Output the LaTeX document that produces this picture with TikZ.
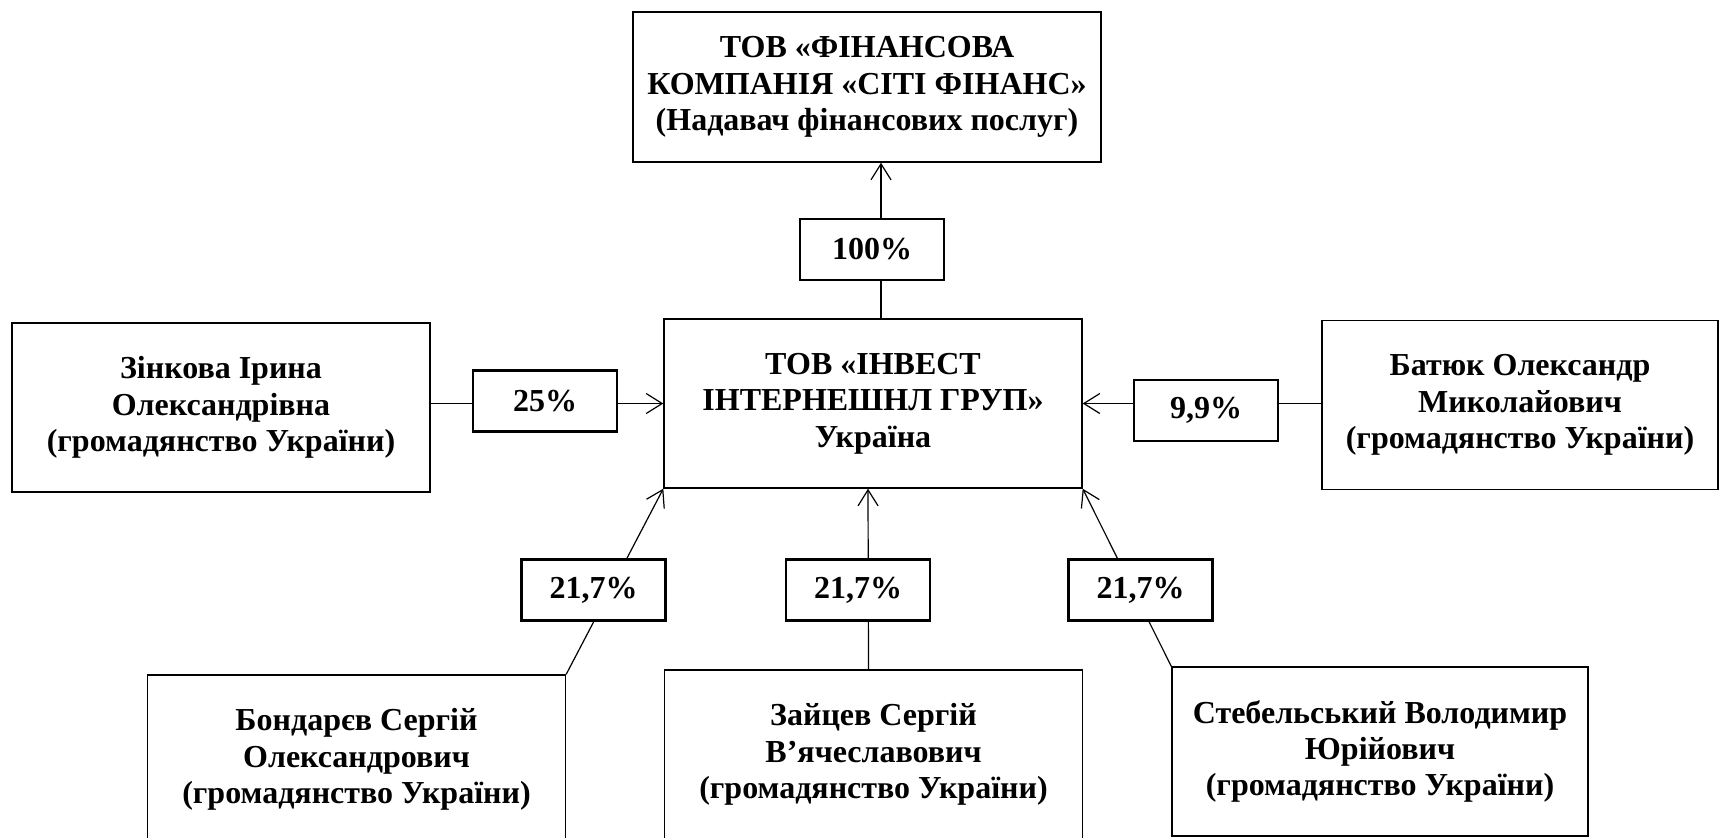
\documentclass[tikz,border=0pt]{standalone}
\usepackage{fontspec}
\setmainfont{Liberation Serif}
\usetikzlibrary{arrows.meta}

\begin{document}
\begin{tikzpicture}[x=0.5pt,y=-0.5pt,
        >={Straight Barb[length=8pt,width=10pt]},
        font=\fontsize{16}{18.2}\selectfont\bfseries,
        party/.style={draw,line width=0.7pt,inner sep=0pt,align=center,minimum width=209pt,minimum height=84.5pt},
        share/.style={draw,line width=1.3pt,fill=white,inner sep=0pt,minimum width=72pt,minimum height=30.5pt}]

                \useasboundingbox (0,0) rectangle (1719,837);
                \clip (0,0) rectangle (1719,837);

                \node[party,minimum width=234pt,minimum height=75pt] (fin) at (867,87) {ТОВ «ФІНАНСОВА\\КОМПАНІЯ «СІТІ ФІНАНС»\\(Надавач фінансових послуг)}; %верх
                \node[party] (inv) at (873,403.5) {ТОВ «ІНВЕСТ\\ІНТЕРНЕШНЛ ГРУП»\\Україна}; %центр
                \node[party] (zin) at (221,407.5) {Зінкова Ірина\\Олександрівна\\(громадянство України)};
                \node[party,minimum width=198pt] (bat) at (1520,405) {Батюк Олександр\\Миколайович\\(громадянство України)};
                \node[party] (bon) at (356.5,759.5) {Бондарєв Сергій\\Олександрович\\(громадянство України)};
                \node[party] (zai) at (873.5,754.5) {Зайцев Сергій\\В’ячеславович\\(громадянство України)};
                \node[party,minimum width=208pt] (ste) at (1380,751.5) {Стебельський Володимир\\Юрійович\\(громадянство України)};

                \draw[->,line width=0.6pt] ([xshift=4pt]inv.north) -- ([xshift=4pt]inv.north |- fin.south);
                \draw[->,line width=0.6pt] (zin.east |- inv.west) -- (inv.west);
                \draw[->,line width=0.6pt] (bat.west |- inv.east) -- (inv.east);
                \draw[->,line width=0.6pt] (bon.north east) -- (inv.south west);
                \draw[->,line width=0.6pt] ([xshift=-2.5pt]zai.north) -- ([xshift=-2.5pt]inv.south);
                \draw[->,line width=0.6pt] (ste.north west) -- (inv.south east);

                % частки поверх ліній
                \node[share] (s100) at (872,249.5) {100\%};
                \node[share] (s25) at (545,401) {25\%};
                \node[share] (s99) at (1206,410.5) {9,9\%};
                \node[share] (s1) at (593.5,590) {21,7\%};
                \node[share] (s2) at (858,590) {21,7\%};
                \node[share] (s3) at (1140.5,590) {21,7\%};

\end{tikzpicture}
\end{document}
